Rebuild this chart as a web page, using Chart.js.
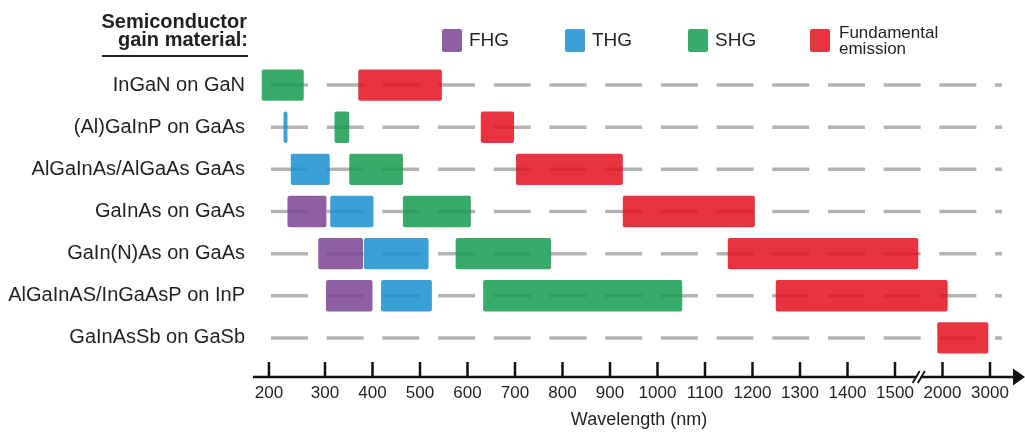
<!DOCTYPE html>
<html>
<head>
<meta charset="utf-8">
<script src="https://cdn.jsdelivr.net/npm/chart.js@4"></script>
<style>
  html, body { margin: 0; padding: 0; background: #fff; }
  #wrap { width: 1025px; height: 435px; }
</style>
</head>
<body>
<div id="wrap"><canvas id="chart"></canvas></div>
<script>
const materials = ['InGaN on GaN', '(Al)GaInP on GaAs', 'AlGaInAs/AlGaAs GaAs', 'GaInAs on GaAs',
    'GaIn(N)As on GaAs', 'AlGaInAS/InGaAsP on InP', 'GaInAsSb on GaSb'];
// wavelength ranges in nm, [from, to], null where there is no bar
const fhg = [null, null, null, [233, 303], [288, 380], [302, 400], null];
const thg = [null, [226, 233], [239, 310], [311, 402], [382, 518], [418, 525], null];
const shg = [[187, 262], [320, 351], [351, 464], [464, 607], [575, 776], [633, 1052], null];
const fundamental = [[370, 546], [628, 698], [702, 927], [927, 1205], [1148, 1745], [1249, 2109], [1945, 2964]];
// broken axis: tick wavelengths and where they sit on the axis
const tickNm = [200, 300, 400, 500, 600, 700, 800, 900, 1000, 1100, 1200, 1300, 1400, 1500, 2000, 3000];
const tickPos = [-0.18, 1, 2, 3, 4, 5, 6, 7, 8, 9, 10, 11, 12, 13, 14, 15];

const FONT = '"Liberation Sans", Arial, sans-serif';
const INK = '#231f20';

function toAxis(nm) {
    let i = 0;
    while (i < tickNm.length - 2 && nm > tickNm[i + 1]) i++;
    const t = (nm - tickNm[i]) / (tickNm[i + 1] - tickNm[i]);
    return tickPos[i] + t * (tickPos[i + 1] - tickPos[i]);
}
const conv = arr => arr.map(r => r ? [toAxis(r[0]), toAxis(r[1])] : null);

const rowLines = {
    id: 'rowLines',
    beforeDatasetsDraw(chart) {
        const ctx = chart.ctx, x = chart.scales.x, y = chart.scales.y;
        const x0 = x.getPixelForValue(toAxis(200)) + 2;
        const x1 = x.getPixelForValue(toAxis(3000)) + 12;
        ctx.save();
        ctx.strokeStyle = '#b3b3b3';
        ctx.lineWidth = 3.5;
        ctx.setLineDash([37, 18.7]);
        materials.forEach((m, i) => {
            const py = y.getPixelForValue(i);
            ctx.beginPath();
            ctx.moveTo(x0, py);
            ctx.lineTo(x1, py);
            ctx.stroke();
        });
        ctx.restore();
    },
    afterDraw(chart) {
        const ctx = chart.ctx, x = chart.scales.x, a = chart.chartArea;
        const ay = a.bottom + 18;
        ctx.save();
        // axis line with arrow
        ctx.strokeStyle = '#111';
        ctx.fillStyle = '#111';
        ctx.lineWidth = 2.5;
        ctx.beginPath();
        ctx.moveTo(a.left, ay);
        ctx.lineTo(a.right - 8, ay);
        ctx.stroke();
        ctx.beginPath();
        ctx.moveTo(a.right, ay);
        ctx.lineTo(a.right - 12, ay - 8.5);
        ctx.lineTo(a.right - 12, ay + 8.5);
        ctx.closePath();
        ctx.fill();
        // tick marks pointing up
        tickPos.forEach(v => {
            const px = x.getPixelForValue(v);
            ctx.beginPath();
            ctx.moveTo(px, ay - 15);
            ctx.lineTo(px, ay);
            ctx.stroke();
        });
        // break mark between 1500 and 2000
        const bx = (x.getPixelForValue(tickPos[13]) + x.getPixelForValue(tickPos[14])) / 2;
        ctx.strokeStyle = '#fff';
        ctx.lineWidth = 3;
        ctx.beginPath();
        ctx.moveTo(bx - 3, ay + 5);
        ctx.lineTo(bx + 3, ay - 5);
        ctx.stroke();
        ctx.strokeStyle = '#111';
        ctx.lineWidth = 1.8;
        [-2.6, 2.6].forEach(d => {
            ctx.beginPath();
            ctx.moveTo(bx + d - 3.5, ay + 6);
            ctx.lineTo(bx + d + 3.5, ay - 6);
            ctx.stroke();
        });
        // header text
        ctx.fillStyle = INK;
        ctx.font = 'bold 20px ' + FONT;
        ctx.textAlign = 'right';
        ctx.textBaseline = 'alphabetic';
        ctx.fillText('Semiconductor', 247, 28);
        ctx.fillText('gain material:', 248, 46);
        ctx.fillRect(102, 55, 146, 2);
        // legend
        const lx = [442, 565, 688, 810];
        chart.data.datasets.forEach((ds, i) => {
            ctx.fillStyle = ds.backgroundColor;
            ctx.beginPath();
            ctx.roundRect(lx[i], 29, 20, 23, 2);
            ctx.fill();
            ctx.fillStyle = INK;
            ctx.textAlign = 'left';
            ctx.textBaseline = 'middle';
            const lines = ds.label.split('\n');
            if (lines.length === 1) {
                ctx.font = '19px ' + FONT;
                ctx.fillText(lines[0], lx[i] + 27, 41);
            } else {
                ctx.font = '17px ' + FONT;
                lines.forEach((t, k) => ctx.fillText(t, lx[i] + 29, 33 + k * 16));
            }
        });
        ctx.restore();
    }
};

const barStyle = { grouped: false, barPercentage: 0.744, categoryPercentage: 1, borderRadius: 2, borderSkipped: false };

new Chart(document.getElementById('chart'), {
    type: 'bar',
    data: {
        labels: materials,
        datasets: [
            { label: 'FHG', data: conv(fhg), backgroundColor: 'rgba(123,67,147,0.85)', ...barStyle },
            { label: 'THG', data: conv(thg), backgroundColor: 'rgba(23,143,207,0.85)', ...barStyle },
            { label: 'SHG', data: conv(shg), backgroundColor: 'rgba(21,155,79,0.85)', ...barStyle },
            { label: 'Fundamental\nemission', data: conv(fundamental), backgroundColor: 'rgba(228,16,31,0.85)', ...barStyle }
        ]
    },
    options: {
        indexAxis: 'y',
        responsive: true,
        maintainAspectRatio: false,
        animation: false,
        layout: { padding: { top: 64, right: 0, bottom: 1, left: 0 } },
        plugins: { legend: { display: false }, tooltip: { enabled: false } },
        scales: {
            x: {
                type: 'linear',
                min: -0.516,
                max: 15.737,
                grid: { display: false, tickLength: 8 },
                border: { display: false },
                afterBuildTicks: s => { s.ticks = tickPos.map(v => ({ value: v })); },
                afterFit: s => { s.height = 75; },
                ticks: {
                    autoSkip: false,
                    maxRotation: 0,
                    padding: 16,
                    color: INK,
                    font: { family: FONT, size: 17 },
                    callback: (v, i) => tickNm[i]
                },
                title: {
                    display: true,
                    text: 'Wavelength (nm)',
                    color: INK,
                    font: { family: FONT, size: 18 },
                    padding: { top: 4, bottom: 3 }
                }
            },
            y: {
                grid: { display: false, drawTicks: false },
                border: { display: false },
                afterFit: s => { s.width = 253; },
                ticks: {
                    padding: 8,
                    color: INK,
                    font: { family: FONT, size: 20 }
                }
            }
        }
    },
    plugins: [rowLines]
});
</script>
</body>
</html>
